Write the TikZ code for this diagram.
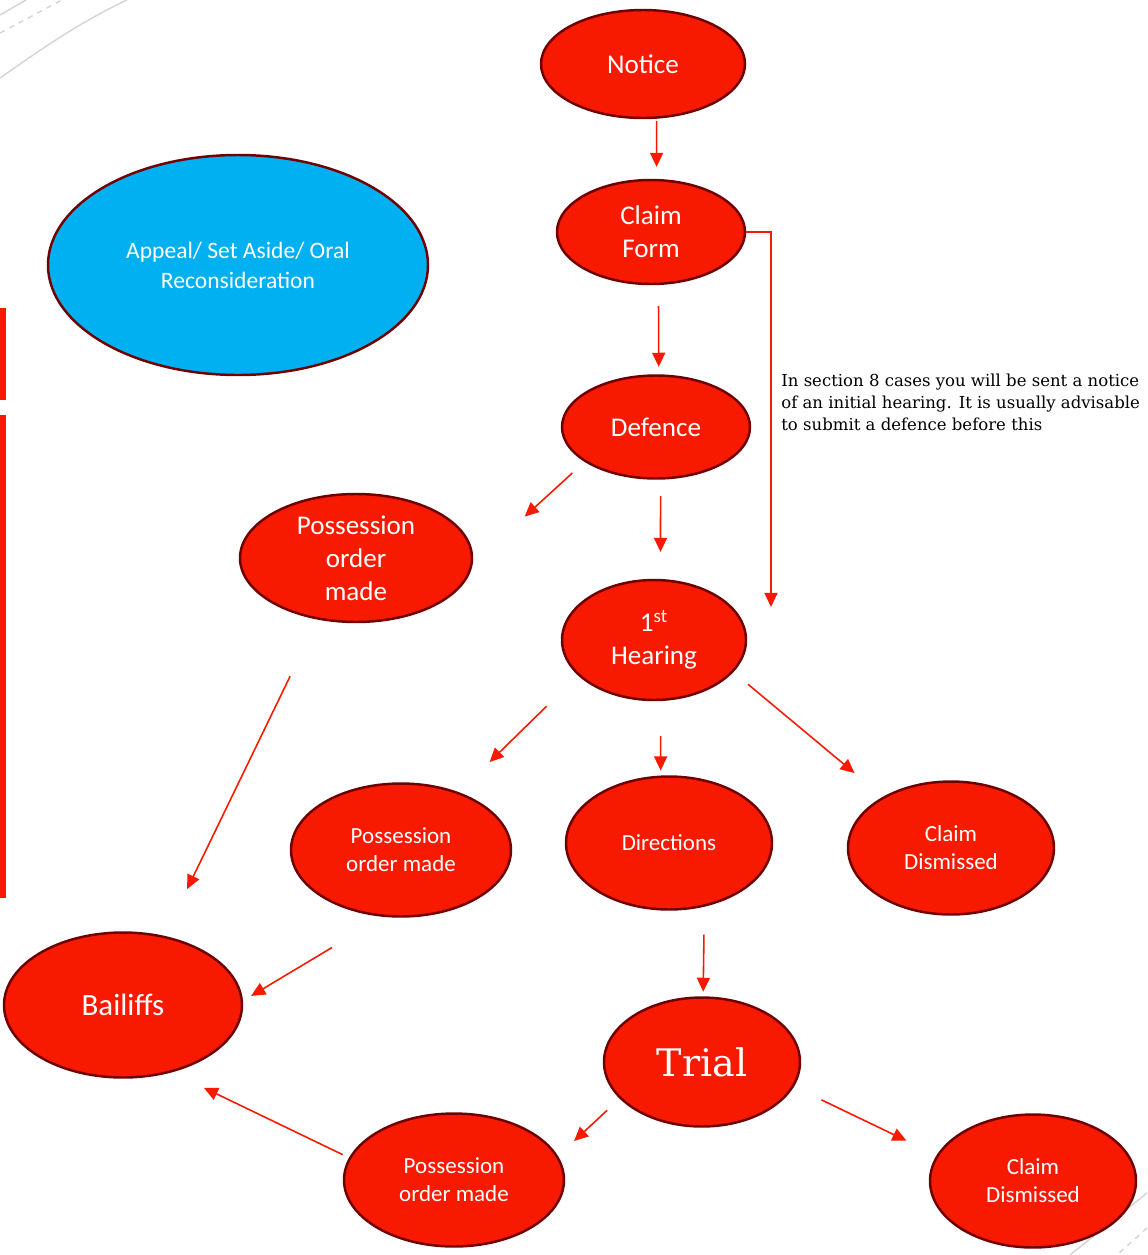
\documentclass[tikz,border=0pt]{standalone}
\usepackage{fontspec}
\setmainfont{Carlito}
\newfontfamily\slabfont{DejaVu Serif}
\usetikzlibrary{shapes.geometric,arrows.meta}
\definecolor{stagered}{RGB}{247,26,0}
\definecolor{rimred}{RGB}{112,0,0}
\definecolor{appealblue}{RGB}{0,176,240}
\definecolor{decogrey}{RGB}{212,212,212}

\begin{document}
\begin{tikzpicture}[x=0.02cm, y=-0.02cm,
  stage/.style={ellipse, draw=rimred, line width=1.4pt, fill=stagered,
                text=white, align=center, inner sep=0pt,
                font=\fontsize{15.4}{18.8}\selectfont},
  minor/.style={font=\fontsize{13.1}{15.9}\selectfont},
  ovalsize/.style 2 args={minimum width=#1*0.02cm, minimum height=#2*0.02cm},
  arr/.style={-{Triangle[length=8pt,width=7.4pt]}, draw=stagered, line width=0.9pt}
]
\useasboundingbox (0,0) rectangle (1147,1255);
% slide decoration
\draw[decogrey, line width=0.8pt] (0,15) -- (26,0);
\draw[decogrey, line width=0.8pt, dashed] (0,33) -- (62,0);
\draw[decogrey, line width=0.8pt] (0,78) .. controls (40,50) and (80,22) .. (127,0);
\draw[decogrey, line width=0.8pt] (1147,1193) -- (1070,1255);
\draw[decogrey, line width=0.8pt, dashed] (1147,1228) -- (1117,1255);
\fill[stagered] (0,308) rectangle (6,400);
\fill[stagered] (0,415) rectangle (6,898);
% Stages
\node[stage, ovalsize={204}{108}] (notice)     at (643,64)   {Notice};
\node[stage, ovalsize={188}{104}] (claim)      at (651,232)  {Claim\\Form};
\node[stage, fill=appealblue, ovalsize={380}{220},
      font=\fontsize{13.4}{17}\selectfont] (appeal) at (238,265) {Appeal/ Set Aside/ Oral\\Reconsideration};
\node[stage, ovalsize={188}{103}] (defence)    at (656,427)  {Defence};
\node[stage, ovalsize={232}{128}] (posA)       at (356,558)  {Possession\\order\\made};
\node[stage, ovalsize={184}{120}] (hearing)    at (654,640)  {1\textsuperscript{st}\\Hearing};
\node[stage, minor, ovalsize={220}{133}] (posB)       at (401,850)  {Possession\\order made};
\node[stage, minor, ovalsize={206}{133}] (directions) at (669,843)  {Directions};
\node[stage, minor, ovalsize={206}{133}] (dismissA)   at (951,848)  {Claim\\Dismissed};
\node[stage, ovalsize={238}{145}, font=\fontsize{17.6}{21}\selectfont] (bailiffs) at (123,1005) {Bailiffs};
\node[stage, ovalsize={196}{129}, font=\slabfont\fontsize{21.6}{26}\selectfont] (trial) at (702,1062) {Trial};
\node[stage, minor, ovalsize={220}{133}] (posC)       at (454,1180) {Possession\\order made};
\node[stage, minor, ovalsize={206}{133}] (dismissB)   at (1033,1181) {Claim\\Dismissed};
% Note
\node[anchor=north west, inner sep=0pt, align=left,
      font=\slabfont\fontsize{9.4}{12.5}\selectfont] (note) at (781,374)
  {In section 8 cases you will be sent a notice\\of an initial hearing. It is usually advisable\\to submit a defence before this};
% Arrows
\coordinate (sidedrop) at (771,607);
\draw[arr, shorten <=0.05cm, shorten >=0.24cm] (notice.-76.4) -- (claim.84.5);
\draw[arr, shorten <=0.42cm, shorten >=0.15cm] (claim.-82.3) -- (defence.87.8);
\draw[arr, line width=0.7pt] (claim.east) -| (sidedrop);
\draw[arr, shorten <=0.33cm, shorten >=1.41cm] (defence.206) -- (posA.-3);
\draw[arr, shorten <=0.33cm, shorten >=0.54cm] (defence.-85.6) -- (hearing.84.3);
\draw[arr, shorten <=0.88cm, shorten >=0.86cm] (hearing.205.6) -- (posB.45.8);
\draw[arr, shorten <=0.7cm, shorten >=0.1cm] (hearing.-84.3) -- (directions.97.7);
\draw[arr, shorten <=0.38cm, shorten >=0.74cm] (hearing.-22.1) -- (dismissA.143.4);
\draw[arr, shorten <=1.26cm, shorten >=1.04cm] (posA.238.3) -- (bailiffs.59.5);
\draw[arr, shorten <=1.19cm, shorten >=0.19cm] (posB.255.8) -- (bailiffs.2.5);
\draw[arr, shorten <=0.56cm, shorten >=0.09cm] (directions.-61.6) -- (trial.89.4);
\draw[arr, shorten <=0.34cm, shorten >=0.44cm] (trial.204.7) -- (posC.13.5);
\draw[arr, shorten <=0.61cm, shorten >=0.67cm] (trial.-15.3) -- (dismissB.165.7);
\draw[arr, shorten <=0.14cm, shorten >=0.71cm] (posC.168) -- (bailiffs.-54.8);
\end{tikzpicture}
\end{document}
